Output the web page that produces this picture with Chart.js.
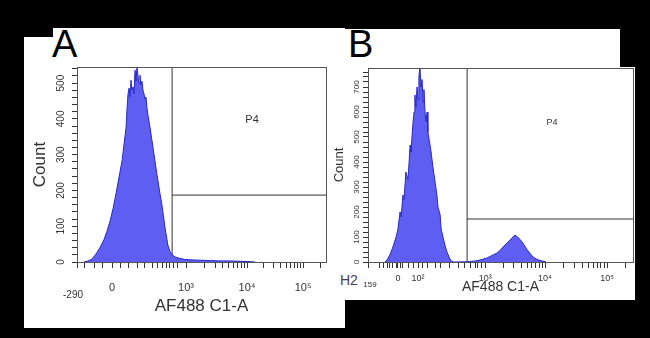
<!DOCTYPE html>
<html>
<head>
<meta charset="utf-8">
<script src="https://cdn.jsdelivr.net/npm/chart.js@4.4.0/dist/chart.umd.min.js"></script>
<style>
body{margin:0;background:#000;width:650px;height:338px;position:relative;overflow:hidden;font-family:"Liberation Sans",Arial,sans-serif}
.blk{position:absolute;background:#000}
.wht{position:absolute;background:#fff}
.box{position:absolute}
.lbl{position:absolute;font-size:38px;line-height:38px;color:#000}
</style>
</head>
<body>
<div class="wht" style="left:24px;top:28px;width:321px;height:300px"></div>
<div class="wht" style="left:345px;top:29px;width:290px;height:271px"></div>
<div class="blk" style="left:24px;top:28px;width:29px;height:9px"></div>
<div class="blk" style="left:620px;top:29px;width:15px;height:38px"></div>
<div class="lbl" style="left:52px;top:25px">A</div>
<div class="lbl" style="left:348px;top:25px">B</div>
<div style="position:absolute;left:340px;top:273px;font-size:14px;line-height:14px;color:#4a3d52">H2</div>
<div class="box" style="left:24px;top:28px;width:321px;height:300px"><canvas id="cA"></canvas></div>
<div class="box" style="left:330px;top:29px;width:305px;height:271px"><canvas id="cB"></canvas></div>
<script>
// x values are display channels (0-1000 across the plot), y are counts
var xA = [28,44,60,76,92,108,120,133,145,157,169,181,189,197,201,205,209,213,217,221,225,229,233,237,241,245,249,253,257,261,265,269,273,277,281,285,293,301,313,321,333,341,353,365,373,382,394,414,434,454,494,534,574,614,655,695,715];
var yA = [0,3,8,22,40,62,85,115,150,192,238,283,330,375,430,470,486,462,508,480,489,470,536,505,545,520,500,522,495,505,480,470,455,461,430,410,377,340,283,245,192,160,98,47,30,20,14,10,7,6,5,4,3,3,2,1,0];

var xB = [64,72,83,94,106,113,121,125,132,136,143,151,159,162,170,174,177,181,185,189,192,196,200,204,208,211,215,219,223,226,234,238,245,253,260,264,272,276,283,291,298,309,317,325,374,404,423,449,468,487,498,509,521,536,547,555,566,574,585,600,611,623,638,657,672];
var yB = [0,8,30,60,100,132,200,180,268,250,360,330,468,440,560,600,668,620,700,650,740,780,700,730,640,690,600,560,600,520,468,440,380,320,268,220,190,132,100,64,40,12,2,0,1,4,8,16,26,36,46,60,72,88,100,108,98,90,75,50,35,20,10,4,0];

// first label is the axis minimum, printed lower and smaller
var xTickA = [0,141,438,683,908];
var xTickLabA = ["-290","0","10³","10⁴","10⁵"];
var xMinorA = [32,72,104,173,205,241,273,305,325,345,361,373,386,402,512,555,585,609,629,645,659,672,751,790,818,840,858,873,886,898,976];

var xTickB = [0,113,189,442,668,902];
var xTickLabB = ["159","0","10²","10³","10⁴","10⁵"];
var xMinorB = [45,57,72,83,94,109,121,132,151,170,204,226,253,272,309,340,366,385,404,415,430,510,550,578,600,618,633,646,658,738,780,809,832,850,866,879,891,972];

var yMaxA = 545, yMaxB = 776;
var yStep = 100, yMinorStep = 20;

// gate P4: [x of vertical line, y of horizontal line], and label position
var gateA = [382,187], gateLabA = [703,397];
var gateB = [374,172], gateLabB = [694,556];
var gateName = "P4";
var xTitle = "AF488 C1-A", yTitle = "Count";

var ink = '#333';
var fam = '"Liberation Sans", Arial, sans-serif';

function pts(xs, ys) {
  return xs.map(function (x, i) { return {x: x, y: ys[i]}; });
}

var framePlugin = {
  id: 'frame',
  afterDatasetsDraw: function (chart, args, opts) {
    var a = chart.chartArea, c = chart.ctx, sx = chart.scales.x, sy = chart.scales.y;
    c.save();
    c.strokeStyle = '#555';
    c.lineWidth = 1;
    c.strokeRect(Math.round(a.left) + 0.5, Math.round(a.top) + 0.5, Math.round(a.width), Math.round(a.height));
    c.fillStyle = ink;
    c.textAlign = 'center';
    c.textBaseline = 'middle';
    c.font = opts.size + 'px ' + fam;
    c.fillText(gateName, sx.getPixelForValue(opts.at[0]), sy.getPixelForValue(opts.at[1]));
    // axis minimum label
    c.font = opts.minSize + 'px ' + fam;
    c.fillText(opts.minLab, sx.getPixelForValue(opts.minAt) + opts.minDx, sx.top + opts.minDy);
    c.restore();
  }
};

function makeChart(id, o) {
  return new Chart(id, {
    type: 'line',
    data: {
      datasets: [{
        data: pts(o.xs, o.ys),
        fill: 'origin',
        backgroundColor: '#5e5ef2',
        borderColor: '#2828c8',
        borderWidth: 1,
        pointRadius: 0,
        tension: 0
      }, {
        data: [{x: o.gate[0], y: 0}, {x: o.gate[0], y: o.yMax}],
        borderColor: ink, borderWidth: 1, pointRadius: 0, fill: false
      }, {
        data: [{x: o.gate[0], y: o.gate[1]}, {x: 1000, y: o.gate[1]}],
        borderColor: ink, borderWidth: 1, pointRadius: 0, fill: false
      }]
    },
    plugins: [framePlugin],
    options: {
      responsive: true,
      maintainAspectRatio: false,
      animation: false,
      layout: {padding: {top: o.padTop, right: o.padRight, left: 0, bottom: 0}},
      plugins: {
        legend: {display: false},
        tooltip: {enabled: false},
        frame: {at: o.gateLab, size: o.gateFs, minLab: o.labels[0], minAt: o.ticks[0],
                minSize: o.minFs, minDx: o.minDx, minDy: o.minDy}
      },
      scales: {
        x: {
          type: 'linear', min: 0, max: 1000,
          afterBuildTicks: function (s) {
            s.ticks = o.minor.concat(o.ticks).sort(function (a, b) { return a - b; })
              .map(function (v) { return {value: v}; });
          },
          ticks: {
            autoSkip: false, maxRotation: 0, minRotation: 0, padding: o.xPad, color: ink,
            font: {size: o.xFs},
            callback: function (v) {
              var i = o.ticks.indexOf(v);
              return i < 1 ? '' : o.labels[i];
            }
          },
          grid: {display: true, drawOnChartArea: false, drawTicks: true, tickLength: 6, color: ink},
          border: {display: true, color: '#555'},
          title: {display: true, text: xTitle, color: ink, font: {size: o.titleFs}, padding: {top: 0, bottom: o.xTitlePad}},
          afterFit: function (s) {
            s.height = o.xH;
            s.paddingLeft = 0; s.paddingRight = 0;
          }
        },
        y: {
          min: 0, max: o.yMax,
          afterBuildTicks: function (s) {
            s.ticks = [];
            for (var v = 0; v <= o.yMax; v += yMinorStep) s.ticks.push({value: v});
          },
          ticks: {
            autoSkip: false, minRotation: 90, maxRotation: 90, crossAlign: 'center',
            padding: o.yPad, color: ink, font: {size: o.yFs},
            callback: function (v) { return v % yStep ? '' : String(v); }
          },
          grid: {display: true, drawOnChartArea: false, drawTicks: true, tickLength: 5, color: ink},
          border: {display: true, color: '#555'},
          title: {display: true, text: yTitle, color: ink, font: {size: o.yTitleFs}, padding: {top: o.yTitlePad, bottom: 0}},
          afterFit: function (s) {
            s.width = o.yW;
            s.paddingTop = 0; s.paddingBottom = 0;
          }
        }
      }
    }
  });
}

Chart.defaults.font.family = fam;

makeChart('cA', {
  xs: xA, ys: yA, ticks: xTickA, labels: xTickLabA, minor: xMinorA, yMax: yMaxA,
  gate: gateA, gateLab: gateLabA, gateFs: 11,
  padTop: 39, padRight: 19, yW: 53, xH: 66,
  xPad: 13, xFs: 11, minFs: 10, minDx: -4, minDy: 33,
  yPad: 2, yFs: 10, titleFs: 17, yTitleFs: 17, xTitlePad: 11, yTitlePad: 6
});

makeChart('cB', {
  xs: xB, ys: yB, ticks: xTickB, labels: xTickLabB, minor: xMinorB, yMax: yMaxB,
  gate: gateB, gateLab: gateLabB, gateFs: 9,
  padTop: 39, padRight: 2, yW: 38, xH: 38,
  xPad: 5, xFs: 9, minFs: 8, minDx: 2, minDy: 23,
  yPad: 0, yFs: 8, titleFs: 14, yTitleFs: 13, xTitlePad: 4, yTitlePad: 2
});
</script>
</body>
</html>
